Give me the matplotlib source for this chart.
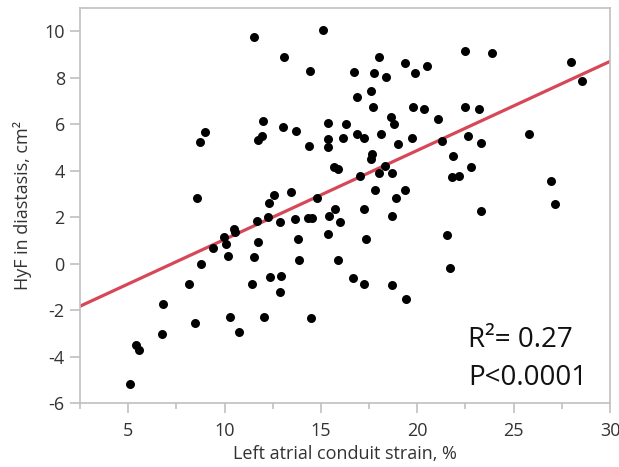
import matplotlib.pyplot as plt
import numpy as np

plt.rcParams['font.family'] = ['Open Sans', 'DejaVu Sans']
plt.rcParams['axes.unicode_minus'] = False

# left atrial conduit strain (%) and HyF in diastasis (cm2)
strain = [8.97, 8.72, 8.55, 11.54, 15.12, 13.07, 14.45, 11.98, 13.05, 13.72,
          15.37, 16.30, 11.93, 11.72, 14.38, 15.38, 15.35, 16.16, 15.69, 15.90,
          12.58, 13.46, 12.32, 14.80, 16.72, 18.03, 17.77, 18.38, 19.36, 19.88,
          20.49, 22.49, 16.86, 17.61, 17.72, 18.64, 18.78, 19.78, 20.35, 21.09,
          22.48, 23.20, 16.86, 17.25, 18.10, 18.98, 19.73, 21.30, 22.62, 23.29,
          17.65, 17.58, 18.32, 17.04, 18.03, 18.69, 21.85, 22.79, 21.82, 22.15,
          17.82, 18.91, 19.36, 17.23, 23.86, 27.96, 28.57, 25.81, 26.92, 27.12,
          18.67, 23.33, 17.34, 21.53, 16.68, 17.25, 18.67, 19.41, 21.69, 15.74,
          11.66, 12.25, 12.87, 13.66, 14.34, 14.52, 15.42, 15.99, 10.47, 10.54,
          9.98, 9.40, 10.05, 10.16, 11.73, 11.53, 13.82, 15.35, 13.88, 15.87,
          12.37, 12.94, 11.43, 12.85, 10.29, 12.02, 14.47, 10.77, 8.75, 8.13,
          6.81, 8.45, 6.74, 5.40, 5.54, 5.09]
hyf = [5.66, 5.24, 2.82, 9.77, 10.03, 8.87, 8.27, 6.12, 5.88, 5.69,
       6.07, 6.02, 5.48, 5.30, 5.04, 5.35, 5.00, 5.40, 4.14, 4.08,
       2.95, 3.08, 2.60, 2.82, 8.24, 8.88, 8.22, 8.01, 8.62, 8.22,
       8.51, 9.15, 7.17, 7.42, 6.73, 6.29, 6.00, 6.73, 6.66, 6.23,
       6.72, 6.63, 5.58, 5.40, 5.58, 5.15, 5.40, 5.28, 5.50, 5.18,
       4.70, 4.52, 4.21, 3.75, 3.89, 3.88, 4.61, 4.16, 3.73, 3.76,
       3.15, 2.83, 3.16, 2.37, 9.08, 8.67, 7.86, 5.57, 3.55, 2.56,
       2.04, 2.26, 1.05, 1.23, -0.61, -0.87, -0.92, -1.51, -0.17, 2.33,
       1.85, 1.99, 1.80, 1.90, 1.96, 1.97, 2.04, 1.77, 1.48, 1.37,
       1.16, 0.66, 0.83, 0.31, 0.93, 0.29, 1.07, 1.28, 0.14, 0.15,
       -0.57, -0.55, -0.87, -1.23, -2.30, -2.28, -2.33, -2.95, -0.03, -0.89,
       -1.72, -2.56, -3.02, -3.52, -3.71, -5.17]

# fitted regression line
intercept = -2.79
slope = 0.383

xticks = [5, 10, 15, 20, 25, 30]
yticks = [-6, -4, -2, 0, 2, 4, 6, 8, 10]

fig = plt.figure(figsize=(6.19, 4.67), dpi=100)
ax = fig.add_axes([0.1294, 0.137, 0.8561, 0.846])

ax.scatter(strain, hyf, s=42, color='black', zorder=3, linewidths=0)
xl = np.array([2.5, 30])
ax.plot(xl, intercept + slope * xl, color='#d64858', lw=2.3, zorder=2)

ax.set_xlim(2.5, 30)
ax.set_ylim(-6, 11)
ax.set_xticks(xticks)
ax.set_xticks(np.arange(2.5, 30.1, 2.5), minor=True)
ax.set_yticks(yticks)

for s in ax.spines.values():
    s.set_color('#c0c0c0')
    s.set_linewidth(1.2)
ax.tick_params(which='both', direction='out', color='#c0c0c0', width=1.2,
               labelsize=13, labelcolor='#333333')
ax.tick_params(axis='x', which='major', length=7, pad=7)
ax.tick_params(axis='x', which='minor', length=4)
ax.tick_params(axis='y', which='major', length=7, pad=4)

ax.set_xlabel('Left atrial conduit strain, %', fontsize=13, color='#333333', labelpad=3)
ax.set_ylabel('HyF in diastasis, cm²', fontsize=13, color='#333333', labelpad=9)

ax.text(0.732, 0.142, 'R²= 0.27', transform=ax.transAxes, fontsize=20,
        color='#111111', va='baseline')
ax.text(0.732, 0.046, 'P<0.0001', transform=ax.transAxes, fontsize=20,
        color='#111111', va='baseline')

fig.savefig('out.png', dpi=100)
